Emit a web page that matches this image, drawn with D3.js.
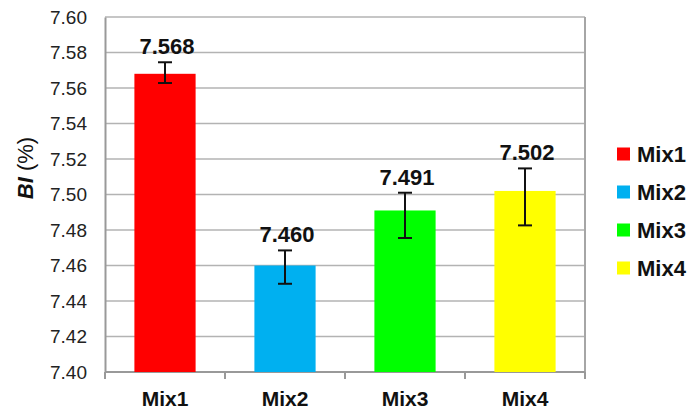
<!DOCTYPE html>
<html>
<head>
<meta charset="utf-8">
<script src="https://cdn.jsdelivr.net/npm/d3@7"></script>
<style>
  body { margin: 0; background: #fff; }
  svg { display: block; font-family: Arial, "Liberation Sans", sans-serif; }
</style>
</head>
<body>
<svg id="canvas" width="700" height="420"></svg>
<script>
// data
let mixes = ['Mix1', 'Mix2', 'Mix3', 'Mix4']
let biValues = [7.568, 7.460, 7.491, 7.502]
let errHigh = [7.5745, 7.4685, 7.501, 7.5147]
let errLow = [7.5628, 7.4497, 7.4755, 7.4826]
let barColors = ['#ff0000', '#00b0f0', '#00ff00', '#ffff00']
let yTicks = [7.40, 7.42, 7.44, 7.46, 7.48, 7.50, 7.52, 7.54, 7.56, 7.58, 7.60]

let canvas = d3.select('#canvas')

let plotLeft = 105, plotRight = 585, plotTop = 17, plotBottom = 372

let xScale = d3.scaleBand()
    .domain(mixes)
    .range([plotLeft, plotRight])
    .paddingInner(0.49)
    .paddingOuter(0.245)

let yScale = d3.scaleLinear()
    .domain([7.40, 7.60])
    .range([plotBottom, plotTop])

// gridlines
canvas.append('g')
    .selectAll('line')
    .data(yTicks)
    .enter()
    .append('line')
    .attr('x1', plotLeft)
    .attr('x2', plotRight)
    .attr('y1', (d) => yScale(d))
    .attr('y2', (d) => yScale(d))
    .attr('stroke', '#b3b3b3')
    .attr('stroke-width', 1.5)

// right border
canvas.append('line')
    .attr('x1', plotRight).attr('x2', plotRight)
    .attr('y1', plotTop).attr('y2', plotBottom)
    .attr('stroke', '#a6a6a6')
    .attr('stroke-width', 2)

// y axis
let yAxis = d3.axisLeft(yScale)
    .tickValues(yTicks)
    .tickFormat(d3.format('.2f'))
    .tickSize(0)
    .tickPadding(18)

canvas.append('g')
    .attr('transform', 'translate(' + plotLeft + ',0)')
    .call(yAxis)
    .call((g) => g.select('.domain').attr('stroke', '#999').attr('stroke-width', 2))
    .selectAll('text')
    .attr('font-size', 19)
    .attr('font-family', 'Arial, "Liberation Sans", sans-serif')
    .attr('fill', '#222')

// x axis: line plus ticks at band boundaries
canvas.append('line')
    .attr('x1', plotLeft).attr('x2', plotRight)
    .attr('y1', plotBottom).attr('y2', plotBottom)
    .attr('stroke', '#999')
    .attr('stroke-width', 2)

let boundaries = d3.range(mixes.length + 1).map((i) => plotLeft + i * (plotRight - plotLeft) / mixes.length)
canvas.append('g')
    .selectAll('line')
    .data(boundaries)
    .enter()
    .append('line')
    .attr('x1', (d) => d).attr('x2', (d) => d)
    .attr('y1', plotBottom).attr('y2', plotBottom + 7)
    .attr('stroke', '#999')
    .attr('stroke-width', 2)

canvas.append('g')
    .selectAll('text')
    .data(mixes)
    .enter()
    .append('text')
    .attr('x', (d) => xScale(d) + xScale.bandwidth() / 2)
    .attr('y', 406)
    .attr('text-anchor', 'middle')
    .attr('font-size', 21)
    .attr('font-weight', 'bold')
    .attr('fill', '#111')
    .text((d) => d)

// bars
canvas.append('g')
    .selectAll('rect')
    .data(mixes)
    .enter()
    .append('rect')
    .attr('x', (d) => xScale(d))
    .attr('width', xScale.bandwidth())
    .attr('y', (d, i) => yScale(biValues[i]))
    .attr('height', (d, i) => plotBottom - yScale(biValues[i]))
    .attr('fill', (d, i) => barColors[i])

// error bars
let errG = canvas.append('g')
    .attr('stroke', '#111')
    .attr('stroke-width', 2)
mixes.forEach((m, i) => {
    let cx = xScale(m) + xScale.bandwidth() / 2
    let hi = yScale(errHigh[i])
    let lo = yScale(errLow[i])
    errG.append('line').attr('x1', cx).attr('x2', cx).attr('y1', hi).attr('y2', lo)
    errG.append('line').attr('x1', cx - 7).attr('x2', cx + 7).attr('y1', hi).attr('y2', hi)
    errG.append('line').attr('x1', cx - 7).attr('x2', cx + 7).attr('y1', lo).attr('y2', lo)
})

// value labels
canvas.append('g')
    .selectAll('text')
    .data(mixes)
    .enter()
    .append('text')
    .attr('x', (d) => xScale(d) + xScale.bandwidth() / 2 + 2)
    .attr('y', (d, i) => yScale(errHigh[i]) - 8)
    .attr('text-anchor', 'middle')
    .attr('font-size', 22)
    .attr('font-weight', 'bold')
    .attr('fill', '#111')
    .text((d, i) => d3.format('.3f')(biValues[i]))

// y title
let yTitle = canvas.append('text')
    .attr('transform', 'translate(33,168) rotate(-90)')
    .attr('text-anchor', 'middle')
    .attr('font-size', 22)
    .attr('fill', '#111')
yTitle.append('tspan').attr('font-weight', 'bold').attr('font-style', 'italic').text('BI')
yTitle.append('tspan').text(' (%)')

// legend
let legend = canvas.append('g')
    .selectAll('g')
    .data(mixes)
    .enter()
    .append('g')
    .attr('transform', (d, i) => 'translate(617,' + (154 + i * 38) + ')')

legend.append('rect')
    .attr('x', 0)
    .attr('y', -6.5)
    .attr('width', 13)
    .attr('height', 13)
    .attr('fill', (d, i) => barColors[i])

legend.append('text')
    .attr('x', 20)
    .attr('y', 8)
    .attr('font-size', 22)
    .attr('font-weight', 'bold')
    .attr('fill', '#111')
    .text((d) => d)
</script>
</body>
</html>
